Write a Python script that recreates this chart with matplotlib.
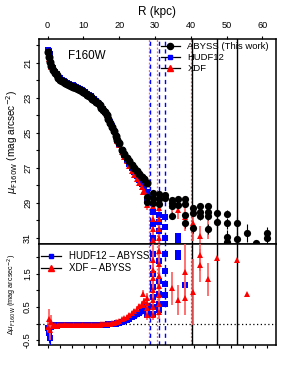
import matplotlib
matplotlib.use("Agg")
import matplotlib.pyplot as plt
from matplotlib.lines import Line2D
import numpy as np

plt.rcParams['font.family'] = ['Liberation Sans', 'DejaVu Sans']

# inner profile (kpc, mag/arcsec^2)
r_in = [0.0, 0.3, 0.6, 1.0, 1.5, 2.0, 2.5, 3.0, 3.5, 4.0, 4.5, 5.0, 5.5, 6.0,
        6.5, 7.0, 7.5, 8.0, 8.5, 9.0, 9.5, 10.0, 10.5, 11.0, 11.5, 12.0, 12.5,
        13.0, 13.5, 14.0, 14.5, 15.0, 15.5, 16.0, 16.5, 17.0, 17.5, 18.0, 18.5,
        19.0, 19.5, 20.0, 20.7, 21.4, 22.1, 22.8, 23.5, 24.2, 24.9, 25.6, 26.3,
        27.0, 27.8]
abyss_in = [20.4, 20.65, 20.95, 21.2, 21.4, 21.58, 21.72, 21.85, 21.95, 22.03,
            22.1, 22.15, 22.2, 22.25, 22.3, 22.35, 22.38, 22.42, 22.47, 22.53,
            22.6, 22.67, 22.74, 22.82, 22.9, 22.97, 23.05, 23.13, 23.22, 23.32,
            23.43, 23.55, 23.68, 23.83, 24.0, 24.2, 24.42, 24.65, 24.88, 25.18,
            25.4, 25.6, 25.95, 26.2, 26.42, 26.63, 26.83, 27.02, 27.2, 27.35,
            27.5, 27.65, 27.85]
abyss_in_err = [0.01] * 30 + [0.02] * 12 + [0.03, 0.03, 0.04, 0.04, 0.05,
                                           0.05, 0.06, 0.07, 0.08, 0.09, 0.1]
xdf_diff = [-0.1, 0.15, -0.2, 0.05, -0.08, -0.06, -0.07, -0.05, -0.06, -0.05,
            -0.06, -0.05, -0.05, -0.06, -0.05, -0.05, -0.06, -0.05, -0.05, -0.05,
            -0.06, -0.05, -0.05, -0.04, -0.05, -0.05, -0.04, -0.04, -0.05, -0.04,
            -0.04, -0.03, -0.03, -0.02, -0.02, -0.01, 0.0, 0.01, 0.02, 0.04, 0.06,
            0.09, 0.13, 0.17, 0.21, 0.26, 0.32, 0.38, 0.45, 0.52, 0.6, 0.68, 0.76]
xdf_diff_err = [0.15, 0.3, 0.3, 0.2, 0.08] + [0.02] * 36 + [0.03, 0.03, 0.04,
                0.04, 0.05, 0.05, 0.06, 0.07, 0.08, 0.09, 0.1, 0.12]
hudf_diff = [-0.15, -0.3, -0.45, -0.1, -0.08, -0.06, -0.07, -0.06, -0.06, -0.06,
             -0.06, -0.06, -0.06, -0.06, -0.06, -0.06, -0.06, -0.06, -0.06, -0.06,
             -0.06, -0.06, -0.06, -0.05, -0.05, -0.05, -0.05, -0.05, -0.05, -0.05,
             -0.05, -0.04, -0.04, -0.04, -0.04, -0.03, -0.03, -0.02, -0.01, 0.0,
             0.01, 0.03, 0.05, 0.08, 0.11, 0.15, 0.19, 0.23, 0.28, 0.33, 0.39,
             0.45, 0.52]

# outer points (several profiles per radius)
r_out_ab = [27.9, 27.9, 29.4, 29.4, 29.4, 31.0, 31.0, 31.0, 32.8, 32.8, 34.7,
            34.7, 34.7, 34.7, 36.4, 36.4, 38.4, 38.4, 38.4, 38.4, 40.5, 40.5,
            40.5, 42.6, 42.6, 42.6, 44.9, 44.9, 44.9, 44.9, 47.4, 47.4, 50.0,
            50.0, 50.0, 50.0, 52.8, 52.8, 55.6, 58.3, 61.3, 61.3]
mag_out_ab = [28.64, 28.93, 28.45, 28.74, 29.02, 28.5, 28.78, 29.05, 28.54,
              28.74, 28.83, 29.0, 29.2, 29.74, 28.8, 29.1, 28.8, 29.05, 29.7,
              30.16, 29.3, 29.6, 30.45, 29.2, 29.5, 29.77, 29.2, 29.5, 29.77,
              30.5, 29.55, 30.07, 29.63, 30.16, 30.92, 31.21, 30.12, 31.07,
              30.73, 31.3, 30.7, 30.98]
err_out_ab = [0.1, 0.1, 0.1, 0.1, 0.15, 0.1, 0.1, 0.15, 0.1, 0.1, 0.1, 0.1,
              0.15, 0.2, 0.1, 0.15, 0.1, 0.15, 0.2, 0.25, 0.15, 0.15, 0.25,
              0.15, 0.15, 0.2, 0.15, 0.15, 0.2, 0.3, 0.2, 0.3, 0.2, 0.3, 0.35,
              0.4, 0.3, 0.4, 0.5, 0.05, 0.35, 0.35]

r_out_xdf = [26.6, 27.9, 27.9, 29.4, 29.4, 29.4, 29.4, 31.0, 31.0, 31.0, 31.0,
             34.7, 36.4, 38.4, 40.5, 42.6, 44.9]
mag_out_xdf = [28.4, 28.75, 29.1, 29.2, 29.9, 30.5, 31.1, 29.3, 29.9, 30.5,
               31.0, 29.2, 29.4, 29.8, 30.16, 30.9, 30.45]
err_out_xdf = [0.1, 0.2, 0.3, 0.4, 0.5, 0.6, 0.7, 0.4, 0.5, 0.6, 0.7, 0.4,
               0.5, 0.8, 1.0, 0.6, 0.6]

r_out_hudf = [27.9, 29.4, 29.4, 29.4, 31.0, 31.0, 31.0, 32.8, 32.8, 32.8,
              36.4, 36.4]
mag_out_hudf = [28.9, 29.5, 30.2, 31.0, 29.7, 30.1, 30.6, 29.8, 30.4, 31.0,
                30.9, 31.1]

rd_out_xdf = [26.6, 26.6, 27.9, 27.9, 27.9, 29.4, 29.4, 29.4, 29.4, 29.4, 29.4,
              29.4, 31.0, 31.0, 31.0, 31.0, 31.0, 31.0, 31.0, 34.7, 36.4, 38.4,
              38.4, 40.5, 42.6, 42.6, 44.9, 47.4, 52.8, 55.6]
d_out_xdf = [0.9, 0.56, 0.61, 0.46, 0.26, 1.92, 1.62, 1.37, 1.02, 0.71, 0.51,
             0.26, 2.2, 1.8, 1.45, 1.15, 0.85, 0.6, 0.35, 1.07, 0.71, 1.57, 0.76,
             0.96, 2.08, 1.77, 1.34, 1.98, 1.92, 0.89]
derr_out_xdf = [0.1, 0.08, 0.3, 0.2, 0.15, 0.5, 0.5, 0.4, 0.4, 0.3, 0.2, 0.15,
                0.6, 0.5, 0.5, 0.4, 0.3, 0.2, 0.2, 0.5, 0.45, 0.9, 0.5, 1.0,
                0.5, 0.5, 0.5, 0.0, 0.0, 0.0]

rd_out_hudf = [27.9, 27.9, 29.4, 29.4, 29.4, 29.4, 29.4, 29.4, 31.0, 31.0, 31.0,
               31.0, 31.0, 32.8, 32.8, 32.8, 32.8, 32.8, 36.4, 36.4, 38.4]
d_out_hudf = [0.4, 0.25, 2.1, 1.5, 1.1, 0.8, 0.5, 0.3, 1.9, 1.3, 0.9, 0.6, 0.4,
              2.1, 1.6, 1.2, 0.85, 0.6, 2.13, 2.02, 1.17]

# radial limits (kpc)
red_lims = [28.2, 30.5, 40.0]
blue_lims = [28.6, 31.1, 32.8]
black_lims = [40.45, 47.4, 52.8]

r_in_a = np.array(r_in)
abyss_a = np.array(abyss_in)
xdf_in = abyss_a + np.array(xdf_diff)
hudf_in = abyss_a + np.array(hudf_diff)

fig = plt.figure(figsize=(3.07, 3.85), dpi=100)
ax1 = fig.add_axes([0.127, 0.3655, 0.771, 0.5335])
ax2 = fig.add_axes([0.127, 0.104, 0.771, 0.2615])

pink = (1.0, 0.35, 0.35)
ms_o, ms_s, ms_t = 5.8, 3.8, 5.0

for ax in (ax1, ax2):
    for r in red_lims:
        ax.axvline(r, color='red', ls=(0, (1.5, 1.5)), lw=0.9, alpha=0.6, zorder=1)
    for r in blue_lims:
        ax.axvline(r, color='blue', ls=(0, (3, 2.5)), lw=1.0, zorder=1)
    for r in black_lims:
        ax.axvline(r, color='black', lw=1.0, zorder=1)

# top panel
ax1.errorbar(r_in, hudf_in, yerr=abyss_in_err, fmt='s', color='blue', ms=ms_s,
             mew=0, elinewidth=0.8, zorder=3)
ax1.errorbar(r_in, xdf_in, yerr=abyss_in_err, fmt='^', color='red', ms=ms_t,
             mew=0, elinewidth=0.8, zorder=3)
ax1.errorbar(r_in, abyss_in, yerr=abyss_in_err, fmt='o', color='black', ms=ms_o,
             mew=0, elinewidth=0.8, zorder=4)
ax1.errorbar(r_out_hudf, mag_out_hudf, fmt='s', color='blue', ms=ms_s, mew=0,
             zorder=3)
ax1.errorbar(r_out_xdf, mag_out_xdf, yerr=err_out_xdf, fmt='^', color='red',
             ecolor=pink, ms=ms_t, mew=0, elinewidth=1.2, zorder=3)
ax1.errorbar(r_out_ab, mag_out_ab, yerr=err_out_ab, fmt='o', color='black',
             ms=ms_o - 0.6, mew=0, elinewidth=0.8, zorder=4)

ax1.set_xlim(-2.4, 63.7)
ax1.set_ylim(31.36, 19.63)
ax1.set_yticks(np.arange(20, 32, 1))
ax1.set_yticklabels(['' if v % 2 == 0 else str(v) for v in range(20, 32)],
                    rotation=90, va='center')
ax1.set_xticks(np.arange(0, 70, 10))
ax1.xaxis.tick_top()
ax1.xaxis.set_label_position('top')
ax1.set_xlabel('R (kpc)', fontsize=8.5, labelpad=4)
ax1.set_ylabel(r'$\mu_{\rm F160W}$ (mag arcsec$^{-2}$)', fontsize=7.2,
               labelpad=2)
ax1.tick_params(axis='both', direction='out', length=2.5, width=0.8,
                labelsize=6.6, pad=2.5)
ax1.tick_params(axis='x', pad=4)
ax1.text(0.1225, 0.917, 'F160W', transform=ax1.transAxes, fontsize=8.4,
         va='center', ha='left')

h_ab = Line2D([], [], color='black', marker='o', ms=4.4, lw=0.9)
h_hu = Line2D([], [], color='black', marker='s', mfc='blue', mec='blue',
              ms=3.4, lw=0.9)
h_xd = Line2D([], [], color='black', marker='^', mfc='red', mec='red',
              ms=4.4, lw=0.9)
ax1.legend([h_ab, h_hu, h_xd], ['ABYSS (This work)', 'HUDF12', 'XDF'],
           loc='upper left', bbox_to_anchor=(0.515, 0.985), frameon=False,
           fontsize=6.8, handlelength=2.0, handletextpad=0.8,
           labelspacing=0.22, borderpad=0, borderaxespad=0)

# bottom panel
ax2.axhline(0, color='black', ls=(0, (1, 2)), lw=0.9, zorder=1)
ax2.errorbar(r_in, hudf_diff, yerr=xdf_diff_err, fmt='s', color='blue', ms=ms_s,
             mew=0, elinewidth=0.8, zorder=3)
ax2.errorbar(r_in, xdf_diff, yerr=xdf_diff_err, fmt='^', color='red',
             ecolor=pink, ms=ms_t, mew=0, elinewidth=1.2, zorder=4)
ax2.errorbar(rd_out_hudf, d_out_hudf, fmt='s', color='blue', ms=ms_s, mew=0,
             zorder=3)
ax2.errorbar(rd_out_xdf, d_out_xdf, yerr=derr_out_xdf, fmt='^', color='red',
             ecolor=pink, ms=ms_t, mew=0, elinewidth=1.2, zorder=4)

ax2.set_xlim(-2.4, 63.7)
ax2.set_ylim(-0.65, 2.4)
ax2.set_xticks(np.arange(0, 63, 3.41))
ax2.set_xticklabels([])
ax2.set_yticks([-0.5, 0.0, 0.5, 1.0, 1.5, 2.0])
ax2.set_yticklabels(['-0.5', '', '0.5', '', '1.5', ''], rotation=90,
                    va='center')
ax2.set_ylabel(r'$\Delta\mu_{\rm F160W}$ (mag arcsec$^{-2}$)', fontsize=5.2,
               labelpad=3)
ax2.tick_params(axis='both', direction='out', length=2.5, width=0.8,
                labelsize=6.6, pad=2.5)

h_hu2 = Line2D([], [], color='black', marker='s', mfc='blue', mec='blue',
               ms=3.4, lw=0.9)
h_xd2 = Line2D([], [], color='black', marker='^', mfc='red', mec='red',
               ms=4.4, lw=0.9)
ax2.legend([h_hu2, h_xd2], ['HUDF12 – ABYSS', 'XDF – ABYSS'],
           loc='upper left', bbox_to_anchor=(0.01, 0.93), frameon=False,
           fontsize=7.0, handlelength=2.0, handletextpad=0.8,
           labelspacing=0.2, borderpad=0, borderaxespad=0)

for ax in (ax1, ax2):
    for s in ax.spines.values():
        s.set_linewidth(1.1)

fig.savefig('out.png', dpi=100)
